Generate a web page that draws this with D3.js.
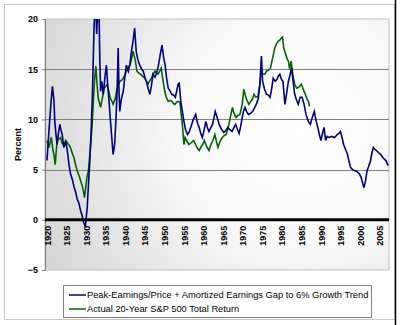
<!DOCTYPE html>
<meta charset="utf-8">
<style>
  body { margin: 0; background: #fff; }
  text { font-family: "Liberation Sans", Arial, sans-serif; }
  .tick text { font-weight: bold; font-size: 9px; fill: #000; }
  .grid line { stroke: #808080; stroke-width: 1px; }
  .legend text { font-size: 9.3px; fill: #000; }
</style>
<body>
<script src="https://d3js.org/d3.v7.min.js"></script>
<script>
// blue series: peak-earnings/price + amortized earnings gap
var blueYears = [1920.0,1920.5,1921.0,1921.4,1921.8,1922.0,1922.3,1922.6,1923.0,1923.3,1923.6,1923.9,1924.3,1924.8,1925.2,1925.6,1926.0,1926.5,1926.9,1927.3,1927.7,1928.2,1928.6,1929.0,1929.3,1929.8,1930.1,1930.3,1930.6,1931.0,1931.3,1931.6,1932.0,1932.2,1932.5,1932.7,1933.0,1933.3,1933.5,1933.7,1934.0,1934.4,1934.8,1935.2,1935.5,1935.8,1936.2,1936.5,1936.9,1937.3,1937.6,1937.9,1938.2,1938.4,1938.6,1939.0,1939.5,1939.9,1940.3,1940.8,1941.2,1941.6,1942.0,1942.4,1942.8,1943.2,1943.7,1944.2,1944.6,1945.0,1945.4,1945.9,1946.3,1946.7,1947.1,1947.6,1948.0,1948.4,1948.8,1949.1,1949.4,1949.8,1950.2,1950.6,1951.0,1951.5,1951.9,1952.4,1952.8,1953.2,1953.5,1953.8,1954.2,1954.6,1955.0,1955.4,1955.9,1956.4,1956.9,1957.4,1958.0,1958.5,1958.9,1959.3,1959.7,1960.2,1960.6,1961.0,1961.4,1961.8,1962.3,1962.7,1963.0,1963.5,1964.0,1964.6,1965.2,1965.7,1966.2,1966.7,1967.3,1967.8,1968.2,1968.7,1969.1,1969.5,1969.9,1970.2,1970.6,1971.0,1971.5,1972.0,1972.6,1973.1,1973.6,1974.0,1974.4,1974.8,1975.1,1975.6,1976.1,1976.6,1977.0,1977.4,1977.8,1978.3,1978.8,1979.1,1979.5,1979.9,1980.3,1980.8,1981.2,1981.7,1982.1,1982.5,1982.9,1983.3,1983.7,1984.2,1984.7,1985.2,1985.7,1986.2,1986.6,1986.8,1987.3,1987.8,1988.3,1988.8,1989.2,1989.6,1990.0,1990.4,1990.8,1991.2,1991.6,1992.1,1992.8,1993.5,1994.2,1994.6,1995.0,1995.4,1995.8,1996.3,1996.8,1997.2,1997.6,1998.1,1998.6,1999.2,1999.8,2000.3,2000.7,2001.0,2001.4,2001.8,2002.2,2002.7,2003.0,2003.4,2003.8,2004.2,2004.7,2005.3,2005.8,2006.6,2007.2];
var blueValues = [5.9,8.8,11.5,13.3,11.8,9.8,8.5,7.5,8.8,9.5,8.9,8.5,7.2,7.8,6.9,5.6,4.6,4.0,3.3,2.8,2.1,1.6,0.9,0.4,-0.2,-0.7,0.5,1.3,3.5,6.2,9.0,12.2,18.7,21,21,18.5,21,21,16,12.8,13.8,12.5,14.2,15.4,13.5,12.1,10.0,8.5,6.5,7.5,9.8,12.5,17.1,13.0,10.8,12.0,12.8,14.2,15.4,14.8,15.5,16.8,17.8,19.1,16.8,16.0,15.4,15.0,14.8,14.2,13.8,13.0,12.5,13.4,14.5,14.2,14.6,15.2,16.1,16.8,17.4,16.2,15.4,14.0,13.1,12.8,12.5,12.4,12.2,12.9,13.5,13.6,11.8,10.8,9.8,9.0,8.5,8.8,9.4,10.0,10.5,9.6,9.2,8.6,8.2,9.0,9.8,9.2,8.8,9.1,9.5,10.2,10.8,10.2,9.5,9.0,8.7,8.9,9.2,9.0,8.8,9.2,9.5,9.0,8.6,9.3,10.2,10.8,11.2,10.8,10.5,10.6,10.8,11.2,11.6,12.1,13.5,16.3,13.8,13.0,12.5,12.4,12.2,13.0,14.1,13.8,14.0,14.3,14.5,14.0,13.8,11.5,12.5,13.8,14.4,15.1,13.8,12.5,12.0,11.5,12.2,12.2,11.5,10.5,10.0,9.8,9.5,10.2,10.8,9.8,9.2,8.5,7.9,8.6,9.2,7.9,8.3,8.2,8.3,8.2,8.5,8.6,8.8,8.2,7.5,7.0,6.5,5.8,5.2,5.0,4.9,4.8,4.6,4.2,3.6,3.2,3.9,4.9,5.3,5.9,6.6,7.2,7.0,6.9,6.7,6.5,6.2,5.9,5.4];

// green series: actual 20-year S&P 500 total return
var greenYears = [1920.0,1920.5,1921.1,1921.5,1921.8,1922.1,1922.6,1923.0,1923.5,1923.9,1924.3,1924.8,1925.3,1925.7,1926.0,1926.5,1926.9,1927.3,1927.7,1928.2,1928.6,1929.0,1929.3,1929.6,1929.9,1930.2,1930.6,1931.1,1931.5,1932.0,1932.2,1932.5,1932.8,1933.1,1933.7,1934.2,1934.6,1935.0,1935.4,1935.8,1936.2,1936.6,1936.9,1937.4,1937.8,1938.2,1938.6,1939.1,1939.5,1939.9,1940.3,1940.8,1941.2,1941.6,1942.0,1942.2,1942.6,1943.0,1943.5,1943.9,1944.4,1945.0,1945.4,1945.8,1946.2,1946.7,1947.1,1947.6,1948.0,1948.4,1948.8,1949.2,1949.6,1950.1,1950.5,1951.0,1951.5,1951.9,1952.3,1952.7,1953.1,1953.5,1954.0,1954.3,1954.6,1955.0,1955.3,1955.8,1956.3,1956.9,1957.5,1958.1,1958.5,1958.9,1959.3,1959.8,1960.2,1960.8,1961.4,1961.9,1962.4,1962.9,1963.3,1963.7,1964.2,1964.8,1965.3,1965.8,1966.1,1966.5,1967.0,1967.4,1967.8,1968.3,1968.8,1969.3,1969.9,1970.3,1970.6,1971.0,1971.6,1972.1,1972.5,1972.9,1973.4,1973.9,1974.3,1974.8,1975.2,1975.7,1976.1,1976.6,1977.1,1977.6,1978.2,1978.6,1979.1,1979.5,1979.9,1980.2,1980.5,1981.0,1981.4,1981.7,1982.0,1982.4,1982.8,1983.3,1983.8,1984.3,1985.0,1985.5,1986.0,1986.5,1986.8,1987.1];
var greenValues = [7.9,7.2,8.2,7.0,6.5,5.5,7.9,8.0,8.2,7.6,7.5,7.9,7.6,7.4,7.2,6.6,6.2,5.5,4.9,4.4,3.9,3.4,2.9,2.2,3.2,4.2,4.9,7.2,9.2,12.8,14.1,15.3,13.5,12.1,11.2,12.2,13.1,13.3,13.5,12.8,12.1,11.8,11.5,12.0,12.8,13.4,13.8,13.9,14.1,14.4,14.8,15.2,15.4,16.0,16.8,16.5,15.8,14.8,14.6,14.5,14.3,14.1,13.8,13.5,13.8,14.1,14.5,14.8,14.6,14.5,14.8,15.1,14.0,12.8,12.2,11.8,11.9,11.8,11.6,11.5,11.7,11.8,11.7,10.5,9.5,7.5,8.2,7.8,7.5,7.7,7.9,7.4,7.1,6.9,7.2,7.5,7.9,7.3,6.9,7.5,7.9,8.5,7.8,7.2,7.8,8.2,8.4,8.5,8.9,9.5,10.5,11.2,10.6,10.2,10.4,10.5,11.5,13.0,12.5,12.0,11.5,11.8,12.0,12.5,12.2,12.3,13.2,14.8,14.5,14.5,14.8,14.9,15.1,16.0,17.1,17.5,17.8,17.9,18.1,18.2,17.1,16.5,16.0,15.8,15.0,15.8,14.5,13.5,13.1,13.2,13.5,13.0,12.5,12.0,11.8,11.3];

var yTicks = [-5, 0, 5, 10, 15, 20];
var xTicks = [1920,1925,1930,1935,1940,1945,1950,1955,1960,1965,1970,1975,1980,1985,1990,1995,2000,2005];
var seriesNames = ["Peak-Earnings/Price + Amortized Earnings Gap to 6% Growth Trend",
                   "Actual 20-Year S&P 500 Total Return"];
var seriesColors = ["#000080", "#006400"];

var svg = d3.select("body").append("svg")
    .attr("width", 400)
    .attr("height", 325);

// outer chart frame
svg.append("rect").attr("x", 4.5).attr("y", 4.5).attr("width", 390).attr("height", 315)
    .attr("fill", "#fff").attr("stroke", "#c8c8c8");
svg.append("line").attr("x1", 395.5).attr("x2", 395.5).attr("y1", 0).attr("y2", 325)
    .attr("stroke", "#000").attr("stroke-width", 1.5);

var plot = {left: 45, top: 19, right: 389, bottom: 270};

var x = d3.scaleLinear().domain([1919.5, 2007.4]).range([plot.left, plot.right]);
var y = d3.scaleLinear().domain([-5, 20]).range([plot.bottom, plot.top]);

// soft gray-to-white fill of the plot area, darkest at the top-left corner
var defs = svg.append("defs");
var grad = defs.append("radialGradient").attr("id", "bg")
    .attr("gradientUnits", "userSpaceOnUse")
    .attr("cx", 300).attr("cy", 130).attr("r", 300);
grad.append("stop").attr("offset", "0%").attr("stop-color", "#ffffff");
grad.append("stop").attr("offset", "40%").attr("stop-color", "#f8f8f8");
grad.append("stop").attr("offset", "100%").attr("stop-color", "#d2d2d2");

defs.append("clipPath").attr("id", "clip").append("rect")
    .attr("x", plot.left).attr("y", plot.top)
    .attr("width", plot.right - plot.left).attr("height", plot.bottom - plot.top);

svg.append("rect")
    .attr("x", plot.left).attr("y", plot.top)
    .attr("width", plot.right - plot.left).attr("height", plot.bottom - plot.top)
    .attr("fill", "url(#bg)").attr("stroke", "#c0c0c0");

// gridlines
svg.append("g").attr("class", "grid")
  .selectAll("line").data(yTicks.filter(function(d) { return d > 0 && d < 20; }))
  .enter().append("line")
    .attr("x1", plot.left).attr("x2", plot.right)
    .attr("y1", function(d) { return Math.round(y(d)) + 0.5; })
    .attr("y2", function(d) { return Math.round(y(d)) + 0.5; });

// y axis
var yAxis = svg.append("g")
    .attr("transform", "translate(" + plot.left + ",0)")
    .call(d3.axisLeft(y).tickValues(yTicks).tickSize(3).tickPadding(4));
yAxis.select(".domain").attr("stroke", "#808080");
yAxis.selectAll(".tick line").attr("stroke", "#808080");

svg.append("text")
    .attr("transform", "translate(21," + (plot.top + plot.bottom) / 2 + ") rotate(-90)")
    .attr("text-anchor", "middle")
    .style("font-weight", "bold").style("font-size", "9px")
    .text("Percent");

// series
var line = d3.line()
    .x(function(d) { return x(d[0]); })
    .y(function(d) { return y(d[1]); });

var lines = svg.append("g").attr("clip-path", "url(#clip)");
lines.append("path")
    .datum(d3.zip(greenYears, greenValues))
    .attr("fill", "none").attr("stroke", seriesColors[1]).attr("stroke-width", 1.6)
    .attr("d", line);
lines.append("path")
    .datum(d3.zip(blueYears, blueValues))
    .attr("fill", "none").attr("stroke", seriesColors[0]).attr("stroke-width", 1.6)
    .attr("d", line);

// zero axis line with year labels
var xAxis = svg.append("g")
    .attr("transform", "translate(0," + y(0) + ")")
    .call(d3.axisBottom(x).tickValues(xTicks).tickFormat(d3.format("d")).tickSize(0).tickPadding(6));
xAxis.select(".domain").remove();
xAxis.selectAll(".tick text")
    .attr("transform", "rotate(-90)")
    .attr("dy", "0.35em").attr("y", 0).attr("x", -6)
    .style("text-anchor", "end");
svg.append("line")
    .attr("x1", plot.left).attr("x2", plot.right)
    .attr("y1", y(0)).attr("y2", y(0))
    .attr("stroke", "#000").attr("stroke-width", 3);

// legend
var legend = svg.append("g").attr("class", "legend");
legend.append("rect").attr("x", 63.5).attr("y", 285.5).attr("width", 308).attr("height", 32)
    .attr("fill", "#fff").attr("stroke", "#808080");
var item = legend.selectAll(".item").data(seriesNames).enter().append("g")
    .attr("transform", function(d, i) { return "translate(0," + (295 + i * 14) + ")"; });
item.append("line").attr("x1", 69).attr("x2", 86)
    .attr("stroke", function(d, i) { return seriesColors[i]; }).attr("stroke-width", 1.5);
item.append("text").attr("x", 87).attr("dy", "0.35em").text(function(d) { return d; });
</script>
</body>
